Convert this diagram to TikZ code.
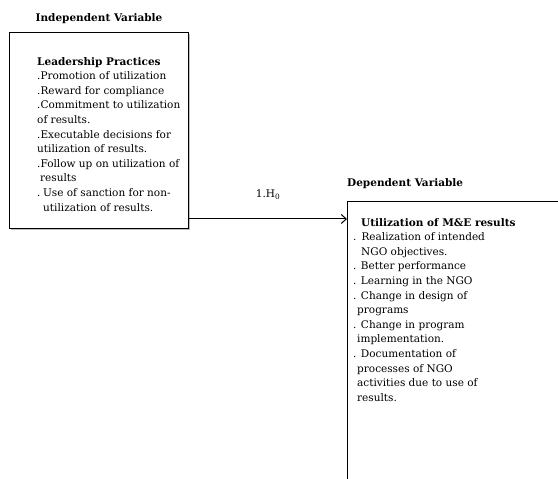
\documentclass[tikz,border=0pt]{standalone}
\usepackage{fontspec}
\setmainfont{DejaVu Serif}
\usetikzlibrary{positioning, arrows.meta, shadows}

\begin{document}
\begin{tikzpicture}[>={Straight Barb[length=5pt,width=9pt]}, x=1pt, y=1pt,
  varbox/.style={draw, line width=1pt, fill=white, inner sep=0pt,
    drop shadow={shadow xshift=1.2pt, shadow yshift=-1.5pt, opacity=0.5}},
  itemtext/.style={anchor=north west, inner sep=0pt, align=left,
    font=\fontsize{10.5}{14.6}\selectfont},
  heading/.style={inner sep=0pt, font=\fontsize{10.5}{12}\selectfont\bfseries}]
  \useasboundingbox (0,0) rectangle (558,479);
  \clip (0,0) rectangle (558,479);
  % independent variable
  \node[varbox, minimum width=179pt, minimum height=196pt, anchor=north west] (lp) at (9,447) {};
  \node[itemtext] (lptext) at ([xshift=28pt, yshift=-25pt]lp.north west) {\textbf{Leadership Practices}\\
    .Promotion of utilization\\
    .Reward for compliance\\
    .Commitment to utilization\\
    of results.\\
    .Executable decisions for\\
    utilization of results.\\
    .Follow up on utilization of\\
    \hspace{3pt}results\\
    .\hspace{2.5pt}Use of sanction for non-\\
    \hspace{6pt}utilization of results.};
  \node[heading, above=8pt of lp] (iv) {Independent Variable};
  % dependent variable (runs off the page)
  \node[varbox, minimum width=260pt, minimum height=320pt, anchor=north west] (ut) at (347,278) {};
  \node[itemtext] (uttext) at ([xshift=6pt, yshift=-17pt]ut.north west) {\hspace{8pt}\textbf{Utilization of M\&E results}\\
    .\hspace{5pt}Realization of intended\\
    \hspace{8pt}NGO objectives.\\
    . Better performance\\
    . Learning in the NGO\\
    . Change in design of\\
    \hspace{4pt}programs\\
    . Change in program\\
    \hspace{4pt}implementation.\\
    . Documentation of\\
    \hspace{4pt}processes of NGO\\
    \hspace{4pt}activities due to use of\\
    \hspace{4pt}results.};
  \node[heading, above=12pt of ut.north west, anchor=south west] (dv) {Dependent Variable};
  % hypothesis link
  \coordinate (hy) at (0,260);
  \draw[->, line width=1pt] (lp.east |- hy) -- (ut.west |- hy)
    node[midway, above=19pt, inner sep=0pt, font=\fontsize{10.5}{12}\selectfont] (h0) {1.H\textsubscript{0}};
\end{tikzpicture}
\end{document}
